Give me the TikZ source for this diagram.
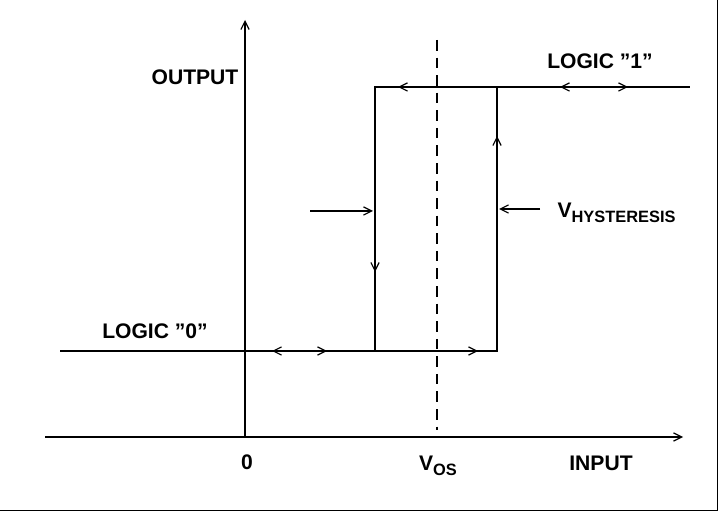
\documentclass[tikz,border=0pt]{standalone}
\usepackage{fontspec}
\setmainfont{Liberation Sans}
\usetikzlibrary{arrows.meta}
\begin{document}
\begin{tikzpicture}[x=0.03cm,y=-0.03cm,line width=1pt,
  tip/.style={-{Straight Barb[length=7pt,width=7pt]}},
  tips/.style={{Straight Barb[length=7pt,width=7pt]}-{Straight Barb[length=7pt,width=7pt]}},
  lab/.style={font=\fontsize{18}{21}\selectfont\bfseries,inner sep=0pt}]
\useasboundingbox (0,0) rectangle (719,512);
\draw[line width=0.6pt] (0,510) -- (717,510) -- (717,0);
% axes
\draw[tip] (245,437) -- (245,20);
\draw[tip] (45,437) -- (683,437);
\draw[dash pattern=on 9pt off 6pt] (437,40) -- (437,430);
% hysteresis loop
\draw (60,351) -- (497,351) -- (497,87);
\draw (375,351) -- (375,87) -- (690,87);
% direction arrows
\draw[tip] (375,240) -- (375,272);
\draw[tip] (497,170) -- (497,136);
\draw[tip] (430,87) -- (398,87);
\draw[tips] (560,87) -- (628,87);
\draw[tips] (272,351) -- (327,351);
\draw[tip] (440,351) -- (478,351);
\draw[tip] (310,211) -- (373,211);
\draw[tip] (540,209) -- (499,209);
% labels
\node[lab] at (195,77) {OUTPUT};
\node[lab] at (600,61) {LOGIC \symbol{34}1\symbol{34}};
\node[lab] at (155,331) {LOGIC \symbol{34}0\symbol{34}};
\node[lab,anchor=west] at (557,213) {V\raisebox{-0.5ex}{\fontsize{14}{16}\selectfont HYSTERESIS}};
\node[lab] at (247,462) {0};
\node[lab] at (438,466) {V\raisebox{-0.5ex}{\fontsize{14}{16}\selectfont OS}};
\node[lab] at (601,463) {INPUT};
\end{tikzpicture}
\end{document}
